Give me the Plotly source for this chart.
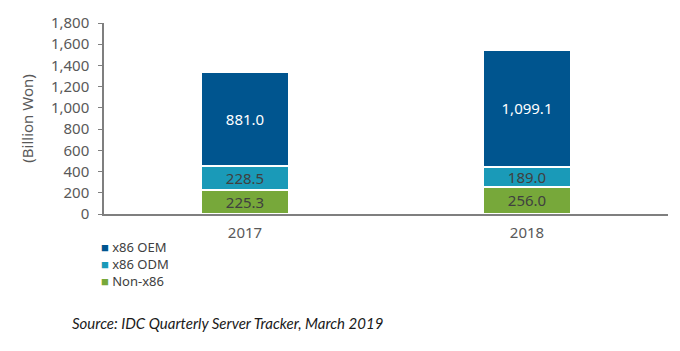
import plotly.graph_objects as go

years = ["2017", "2018"]
non_x86 = [225.3, 256.0]
x86_odm = [228.5, 189.0]
x86_oem = [881.0, 1099.1]
y_ticks = [0, 200, 400, 600, 800, 1000, 1200, 1400, 1600, 1800]

FONT = "Noto Sans"
GRAY = "#595959"
xpos = list(range(len(years)))

def lab(v):
    return [f"{x:,.1f}" for x in v]

fig = go.Figure()
series = [
    ("Non-x86", non_x86, "#77A83A", "#404040"),
    ("x86 ODM", x86_odm, "#1A9AB8", "#404040"),
    ("x86 OEM", x86_oem, "#00558F", "white"),
]
for name, vals, col, tcol in series:
    fig.add_trace(go.Bar(
        x=xpos, y=vals, name=name,
        marker=dict(color=col, line=dict(color="white", width=1.5)),
        width=0.31,
        text=lab(vals), textposition="inside", insidetextanchor="middle",
        textfont=dict(family=FONT, size=15, color=tcol),
        textangle=0, constraintext="none",
        showlegend=False,
    ))

# custom legend as one multi-line text block (top entry = last series)
legend_text = "<br>".join(
    f"<span style='color:{col}'>■</span> {name}" for name, vals, col, tcol in reversed(series)
)
fig.add_annotation(
    text=legend_text, align="left",
    xref="paper", yref="paper",
    x=(100 - 104) / 564, y=(214 - 238) / 196,
    xanchor="left", yanchor="top", showarrow=False, borderpad=0,
    font=dict(family=FONT, size=13, color="#404040"),
)

fig.update_layout(
    barmode="stack",
    width=680, height=351,
    margin=dict(l=104, r=12, t=18, b=137),
    plot_bgcolor="white", paper_bgcolor="white",
    font=dict(family=FONT, color=GRAY, size=14),
    xaxis=dict(
        range=[-0.5, 1.5], tickvals=xpos, ticktext=years,
        showline=True, linecolor="#7f7f7f", linewidth=1.5,
        showgrid=False, zeroline=False, ticks="",
        ticklabelstandoff=4,
        tickfont=dict(family=FONT, size=15, color=GRAY),
    ),
    yaxis=dict(
        range=[0, 1800], tickvals=y_ticks, tickformat=",",
        showline=True, linecolor="#7f7f7f", linewidth=1.5,
        ticks="outside", ticklen=4, tickcolor="#7f7f7f",
        ticklabelstandoff=6,
        showgrid=False, zeroline=False,
        tickfont=dict(family=FONT, size=15, color=GRAY),
        title=dict(text="(Billion Won)", font=dict(family=FONT, size=15, color=GRAY), standoff=14),
    ),
)
fig.add_annotation(
    text="<i>Source: IDC Quarterly Server Tracker, March 2019</i>",
    xref="paper", yref="paper", x=(70 - 104) / 564, y=(214 - 326) / 196,
    xanchor="left", yanchor="middle", showarrow=False,
    font=dict(family="Lato", size=15, color="#1a1a1a"),
)
fig.write_html("out.html")
